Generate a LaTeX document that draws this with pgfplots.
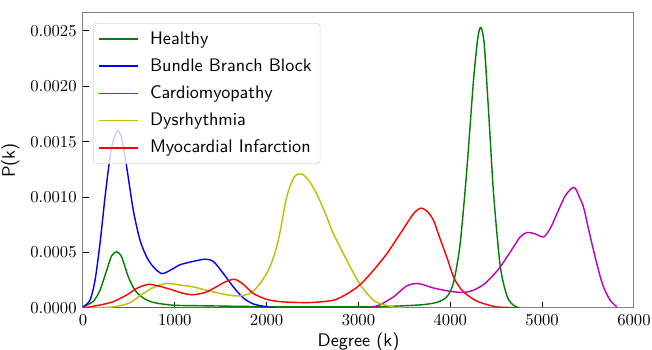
\documentclass[border=0pt]{standalone}
\usepackage{pgfplots}
\pgfplotsset{compat=1.18}
\definecolor{mplgreen}{rgb}{0,0.5,0}
\definecolor{mplblue}{rgb}{0,0,1}
\definecolor{mplmag}{rgb}{0.75,0,0.75}
\definecolor{mplyel}{rgb}{0.75,0.75,0}
\definecolor{mplred}{rgb}{1,0,0}
\begin{document}
\fontsize{10.9}{13}\selectfont
\begin{tikzpicture}
\begin{axis}[
  width=330.6pt, height=177pt, scale only axis,
  xmin=0, xmax=6000, ymin=0, ymax=0.00266,
  xtick={0,1000,2000,3000,4000,5000,6000},
  ytick={0,0.0005,0.001,0.0015,0.002,0.0025},
  scaled x ticks=false, scaled y ticks=false,
  yticklabel style={/pgf/number format/.cd, fixed, fixed zerofill, precision=4},
  xticklabel style={/pgf/number format/.cd, fixed, 1000 sep={}},
  tick label style={font=\fontsize{9.7}{11}\selectfont},
  tick pos=left,
  tick align=inside,
  major tick length=3.6pt,
  tick style={black, line width=0.6pt},
  axis line style={draw=black!50, line width=0.6pt},
  xlabel={\sffamily Degree (k)},
  ylabel={\sffamily P(k)},
  xlabel style={yshift=3pt},
  ylabel style={yshift=-1pt},
  legend style={at={(0.018,0.966)}, anchor=north west, fill=white, fill opacity=0.8, text opacity=1, draw=black!15, rounded corners=2pt, font=\sffamily, row sep=3pt, inner sep=3pt},
  legend cell align=left,
  legend image code/.code={\draw[#1, line width=1.1pt] (0cm,0cm) -- (23pt,0pt);},
  every axis plot/.append style={line width=0.85pt, smooth, tension=0.45},
  clip=true,
]
\addplot[mplgreen] coordinates {
(0,0.00001) (112,0.00006) (185,0.00016) (258,0.00034) (312,0.00047) (367,0.000507) (421,0.00046) (494,0.00028) (567,0.00016) (657,0.00009) (766,0.00005) (984,0.000025) (1300,0.00002) (1700,0.000015) (2200,0.00001) (2700,0.00001) (3200,0.000012) (3500,0.00002) (3700,0.00003) (3850,0.00005) (3961,0.0001) (4035,0.00023) (4107,0.00058) (4180,0.00125) (4252,0.00205) (4300,0.00244) (4333,0.00253) (4369,0.00238) (4416,0.00178) (4471,0.00103) (4543,0.00038) (4616,0.00011) (4680,0.00003) (4750,0.0)
};
\addlegendentry{\hspace{5pt}Healthy}
\addplot[mplblue] coordinates {
(0,0.00001) (76,0.00007) (131,0.00025) (185,0.00058) (240,0.00100) (294,0.00136) (330,0.00151) (378,0.00160) (421,0.00153) (476,0.00127) (548,0.00088) (621,0.00061) (694,0.00046) (766,0.00037) (857,0.00031) (950,0.00034) (1057,0.00039) (1200,0.00042) (1329,0.00044) (1420,0.00042) (1529,0.00031) (1637,0.00019) (1747,0.00009) (1856,0.000036) (2000,0.00001) (2100,0.0)
};
\addlegendentry{\hspace{5pt}Bundle Branch Block}
\addplot[mplmag] coordinates {
(0,0) (3000,0) (3150,0.00001) (3236,0.00003) (3381,0.0001) (3527,0.0002) (3654,0.00022) (3817,0.00018) (4000,0.00015) (4143,0.00014) (4250,0.00016) (4361,0.00021) (4450,0.00028) (4543,0.00037) (4688,0.00055) (4760,0.00064) (4834,0.00068) (4920,0.00067) (5015,0.00064) (5090,0.00072) (5161,0.00085) (5250,0.00101) (5324,0.00108) (5360,0.00108) (5400,0.00101) (5450,0.00091) (5500,0.00073) (5559,0.00052) (5620,0.00032) (5668,0.00019) (5740,0.00007) (5813,0.00001)
};
\addlegendentry{\hspace{5pt}Cardiomyopathy}
\addplot[mplyel] coordinates {
(0,0.0) (330,0.00001) (512,0.000048) (657,0.000132) (785,0.000192) (912,0.000222) (1057,0.000207) (1200,0.00019) (1347,0.00016) (1500,0.00013) (1674,0.000108) (1820,0.000132) (1928,0.00022) (2036,0.00037) (2127,0.00061) (2218,0.001) (2300,0.00118) (2375,0.00121) (2450,0.00116) (2545,0.00103) (2640,0.00085) (2727,0.00067) (2873,0.00043) (3018,0.00021) (3163,0.00007) (3272,0.00003) (3400,0.000005) (3500,0)
};
\addlegendentry{\hspace{5pt}Dysrhythmia}
\addplot[mplred] coordinates {
(0,0.0) (185,0.000027) (330,0.000057) (476,0.000117) (585,0.000177) (712,0.000213) (839,0.000195) (984,0.00016) (1100,0.00013) (1200,0.00012) (1330,0.00014) (1450,0.00019) (1560,0.00024) (1656,0.000258) (1750,0.00021) (1856,0.00013) (2000,0.000078) (2145,0.000057) (2327,0.00005) (2500,0.00005) (2727,0.00007) (2873,0.000126) (3018,0.00021) (3163,0.00034) (3309,0.00049) (3454,0.00067) (3599,0.00085) (3679,0.0009) (3750,0.00087) (3817,0.00079) (3890,0.00062) (3961,0.00046) (4035,0.00028) (4107,0.00018) (4180,0.00012) (4270,0.00007) (4361,0.00004) (4500,0.00001) (4616,0.000005) (4750,0)
};
\addlegendentry{\hspace{5pt}Myocardial Infarction}
\end{axis}
\pgfresetboundingbox
\path[use as bounding box] ([shift={(-49.8pt,-25.2pt)}]current axis.south west) rectangle ([shift={(10.8pt,7.8pt)}]current axis.north east);
\end{tikzpicture}
\end{document}
